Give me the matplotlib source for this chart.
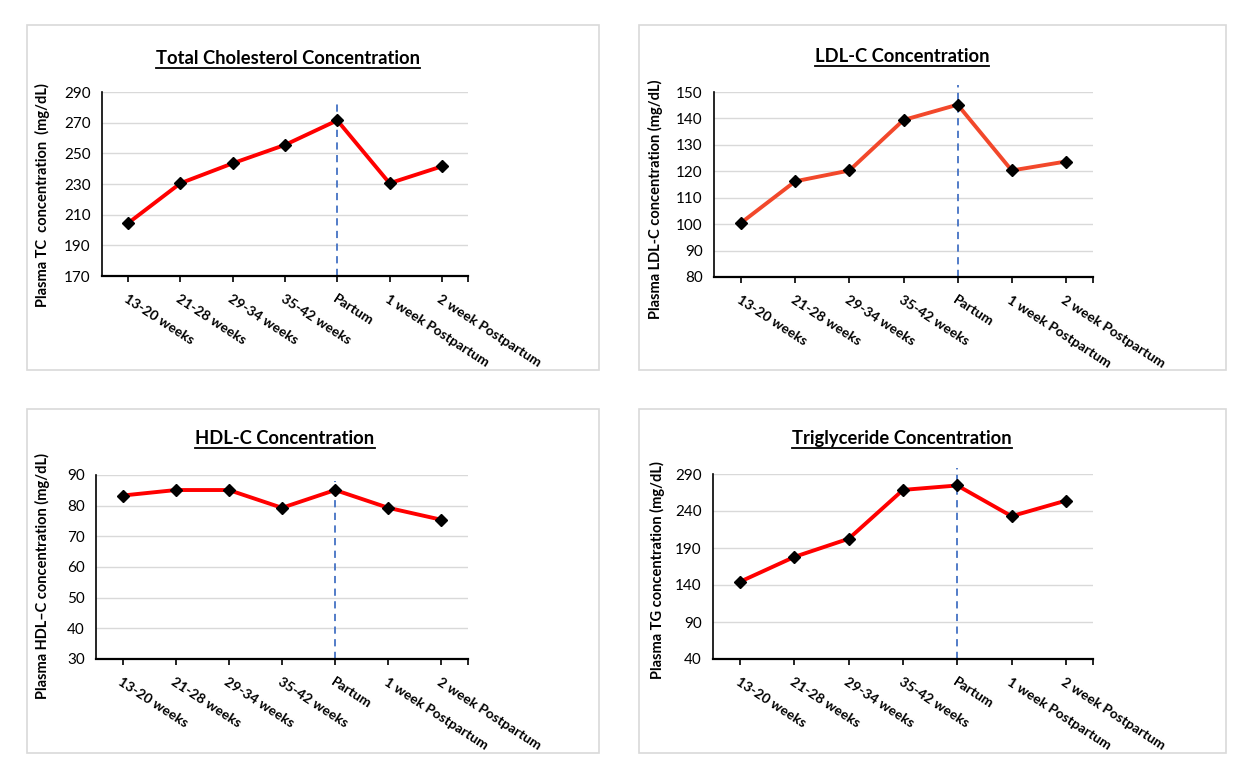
import matplotlib
matplotlib.use("Agg")
import matplotlib.pyplot as plt
from matplotlib.patches import Rectangle
from matplotlib.lines import Line2D

plt.rcParams['font.family'] = ['Lato', 'DejaVu Sans']

categories = ["13-20 weeks", "21-28 weeks", "29-34 weeks", "35-42 weeks",
              "Partum", "1 week Postpartum", "2 week Postpartum"]

tc_values = [204.5, 230.5, 243.5, 255.5, 271.5, 230.5, 241.5]
ldl_values = [100.5, 116.2, 120.3, 139.4, 145.2, 120.3, 123.7]
hdl_values = [83.3, 85.1, 85.1, 79.3, 85.1, 79.3, 75.4]
tg_values = [144.5, 178.0, 202.5, 268.5, 274.5, 233.0, 254.0]

tc_ticks = [170, 190, 210, 230, 250, 270, 290]
ldl_ticks = [80, 90, 100, 110, 120, 130, 140, 150]
hdl_ticks = [30, 40, 50, 60, 70, 80, 90]
tg_ticks = [40, 90, 140, 190, 240, 290]

titles = ["Total Cholesterol Concentration", "LDL-C Concentration",
          "HDL-C Concentration", "Triglyceride Concentration"]
ylabels = ["Plasma TC  concentration  (mg/dL)",
           "Plasma LDL-C concentration (mg/dL)",
           "Plasma HDL\u2013C concentration (mg/dL)",
           "Plasma TG concentration (mg/dL)"]
partum_index = 4

W, H = 1250, 769
fig = plt.figure(figsize=(W / 100, H / 100), dpi=100)

def fx(px):
    return px / W

def fy(py):
    return 1 - py / H

panels = [
    dict(vals=tc_values, ticks=tc_ticks, box=(102, 92, 468, 276), frame=(27, 25, 599, 370),
         tpos=(288, 58), lab=(-0.142, 0.44), dtop=0.945, color='#FF0000'),
    dict(vals=ldl_values, ticks=ldl_ticks, box=(714, 92, 1093, 277), frame=(639, 25, 1226, 370),
         tpos=(902, 56), lab=(-0.135, 0.42), dtop=1.04, color='#F2482B'),
    dict(vals=hdl_values, ticks=hdl_ticks, box=(96, 475, 468, 659), frame=(27, 409, 599, 753),
         tpos=(285, 439), lab=(-0.124, 0.45), dtop=0.97, color='#FF0000'),
    dict(vals=tg_values, ticks=tg_ticks, box=(713, 474, 1093, 659), frame=(639, 409, 1226, 753),
         tpos=(902, 439), lab=(-0.126, 0.48), dtop=1.03, color='#FF0000'),
]

title_texts = []
for i, p in enumerate(panels):
    fl, ft, fr, fb = p['frame']
    fig.patches.append(Rectangle((fx(fl), fy(fb)), fx(fr - fl), (fb - ft) / H,
                                 transform=fig.transFigure, fill=False,
                                 edgecolor='#D9D9D9', linewidth=1.2))
    l, t, r, b = p['box']
    ax = fig.add_axes([fx(l), fy(b), fx(r - l), (b - t) / H])
    x = list(range(len(categories)))
    ax.plot(x, p['vals'], color=p['color'], linewidth=2.8, marker='D',
            markersize=6.5, markerfacecolor='black', markeredgecolor='black', zorder=3)
    ax.axvline(partum_index, ymin=0, ymax=p['dtop'], color='#4472C4', linewidth=1.3,
               linestyle=(0, (4, 3)), clip_on=False, zorder=2)
    ax.set_xlim(-0.5, len(categories) - 0.5)
    ax.set_ylim(p['ticks'][0], p['ticks'][-1])
    ax.set_yticks(p['ticks'])
    ax.yaxis.grid(True, color='#D9D9D9', linewidth=1.0)
    ax.set_axisbelow(True)
    ax.set_xticks(x)
    ax.set_xticks([len(categories) - 0.5], minor=True)
    ax.set_xticklabels(categories, rotation=-33, ha='left', va='top',
                       rotation_mode='anchor', fontsize=10, fontweight='bold')
    ax.tick_params(axis='x', which='both', direction='out', length=4, width=1.2,
                   color='black', pad=8)
    ax.tick_params(axis='y', length=0, labelsize=11, pad=8)
    for s in ['top', 'right']:
        ax.spines[s].set_visible(False)
    ax.spines['left'].set_linewidth(1.2)
    ax.spines['bottom'].set_linewidth(1.6)
    ax.set_ylabel(ylabels[i], fontsize=10.5, fontweight='bold')
    ax.yaxis.set_label_coords(*p['lab'])
    tt = fig.text(fx(p['tpos'][0]), fy(p['tpos'][1]), titles[i], ha='center', va='center',
                  fontsize=13.2, fontweight='bold')
    title_texts.append(tt)

fig.canvas.draw()
renderer = fig.canvas.get_renderer()
for tt in title_texts:
    bb = tt.get_window_extent(renderer)
    yline = bb.y0 - 1
    fig.lines.append(Line2D([bb.x0 / W, bb.x1 / W], [yline / H, yline / H],
                            transform=fig.transFigure, color='black', linewidth=1.3))

fig.savefig("out.png", dpi=100, facecolor='white')
